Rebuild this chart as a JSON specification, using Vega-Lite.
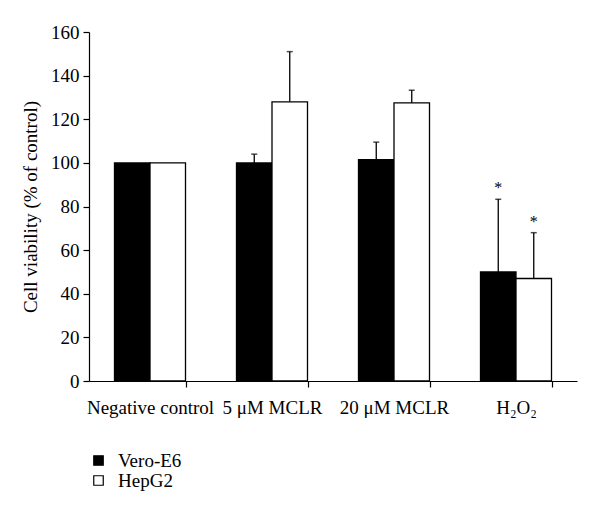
{
  "$schema": "https://vega.github.io/schema/vega-lite/v6.json",
  "width": 488,
  "height": 349,
  "autosize": {"type": "none"},
  "padding": {"left": 89, "top": 32, "right": 23, "bottom": 134},
  "background": "white",
  "config": {
    "font": "Liberation Serif",
    "view": {"stroke": null},
    "axis": {"grid": false, "domainColor": "black", "tickColor": "black", "labelColor": "black", "titleColor": "black", "labelFont": "Liberation Serif", "titleFont": "Liberation Serif", "titleFontWeight": "normal"}
  },
  "data": {
    "values": [
      {"group": "Negative control", "cell": "Vero-E6", "value": 100, "hi": null, "sig": ""},
      {"group": "Negative control", "cell": "HepG2", "value": 100, "hi": null, "sig": ""},
      {"group": "5 μM MCLR", "cell": "Vero-E6", "value": 100, "hi": 104, "sig": ""},
      {"group": "5 μM MCLR", "cell": "HepG2", "value": 128, "hi": 151, "sig": ""},
      {"group": "20 μM MCLR", "cell": "Vero-E6", "value": 101.5, "hi": 109.5, "sig": ""},
      {"group": "20 μM MCLR", "cell": "HepG2", "value": 127.5, "hi": 133.3, "sig": ""},
      {"group": "H₂O₂", "cell": "Vero-E6", "value": 50, "hi": 83.3, "sig": "*"},
      {"group": "H₂O₂", "cell": "HepG2", "value": 47, "hi": 68, "sig": "*"}
    ]
  },
  "encoding": {
    "x": {
      "field": "group", "type": "nominal", "sort": null,
      "scale": {"paddingInner": 0.418, "paddingOuter": 0.209},
      "axis": {"title": null, "labelAngle": 0, "labelFontSize": 19, "labelPadding": 11, "tickBand": "extent", "tickSize": 6, "domainWidth": 1.2, "tickWidth": 1.2, "tickOpacity": {"condition": {"test": "datum.extra", "value": 0}, "value": 1}}
    },
    "xOffset": {"field": "cell", "type": "nominal", "scale": {"domain": ["Vero-E6", "HepG2"], "paddingInner": 0, "paddingOuter": 0}}
  },
  "layer": [
    {
      "mark": {"type": "bar", "stroke": "black", "strokeWidth": 1.3},
      "encoding": {
        "y": {
          "field": "value", "type": "quantitative",
          "scale": {"domain": [0, 160], "nice": false},
          "axis": {"title": "Cell viability (% of control)", "titleFontSize": 19, "titlePadding": 10, "labelFontSize": 19, "labelPadding": 4, "tickSize": 6, "values": [0, 20, 40, 60, 80, 100, 120, 140, 160], "domainWidth": 1.2, "tickWidth": 1.2}
        },
        "fill": {
          "field": "cell", "type": "nominal",
          "scale": {"domain": ["Vero-E6", "HepG2"], "range": ["black", "white"]},
          "legend": {"title": null, "orient": "none", "legendX": 0, "legendY": 419, "symbolType": "square", "symbolSize": 90, "symbolStrokeColor": "black", "symbolStrokeWidth": 1.2, "labelFontSize": 19, "labelColor": "black", "labelFont": "Liberation Serif", "rowPadding": 0, "labelOffset": 10}
        }
      }
    },
    {
      "transform": [{"filter": "datum.hi != null"}],
      "mark": {"type": "rule", "color": "black", "strokeWidth": 1.3},
      "encoding": {"y": {"field": "value", "type": "quantitative"}, "y2": {"field": "hi"}}
    },
    {
      "transform": [{"filter": "datum.hi != null"}],
      "mark": {"type": "tick", "color": "black", "size": 6, "thickness": 1.5},
      "encoding": {"y": {"field": "hi", "type": "quantitative"}}
    },
    {
      "transform": [{"filter": "datum.sig != ''"}],
      "mark": {"type": "text", "fontSize": 16, "dy": -3, "baseline": "bottom", "color": "black", "font": "Liberation Serif"},
      "encoding": {"y": {"field": "hi", "type": "quantitative"}, "text": {"field": "sig"}}
    }
  ]
}
